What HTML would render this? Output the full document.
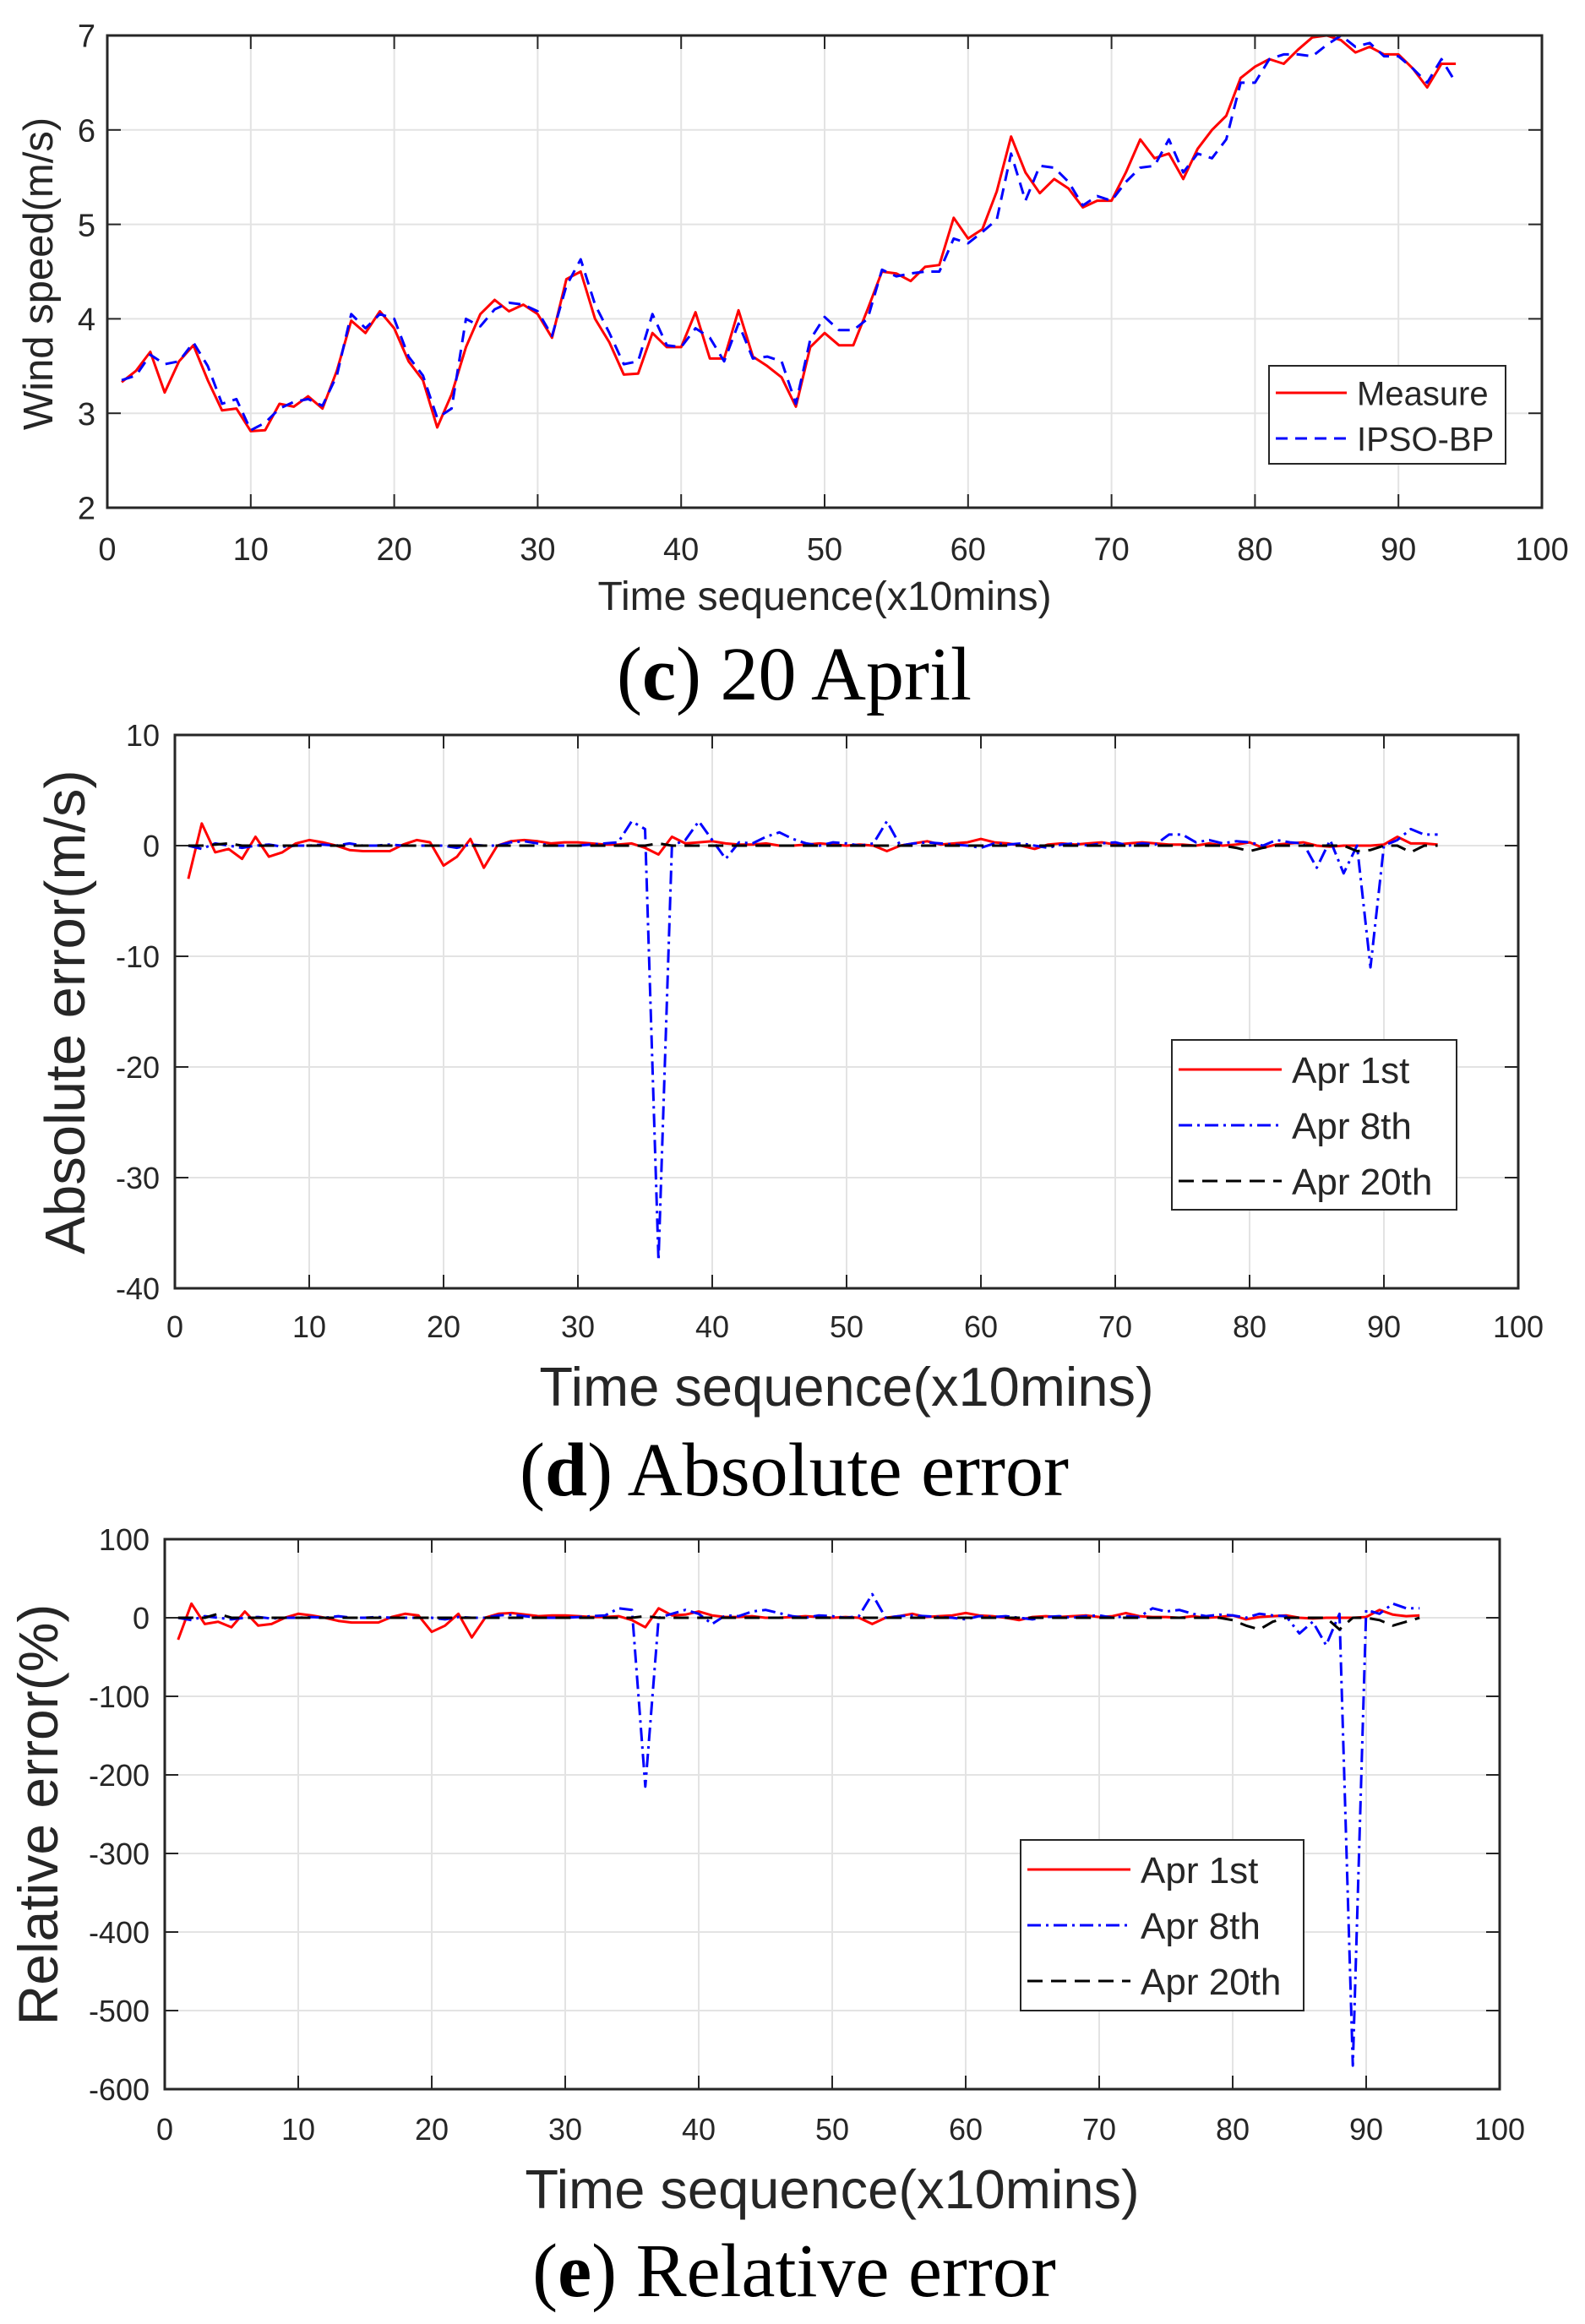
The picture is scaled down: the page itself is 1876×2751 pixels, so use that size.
<!DOCTYPE html>
<html><head><meta charset="utf-8"><style>
html,body{margin:0;padding:0;background:#fff;}
svg{display:block;}
text{font-family:"Liberation Sans",sans-serif;fill:#262626;}
.cap{font-family:"Liberation Serif",serif;fill:#000;}
</style></head><body>
<svg id="root" width="1876" height="2751" viewBox="0 0 1876 2751" xmlns="http://www.w3.org/2000/svg"></svg>
<script>
// ---- data ----
const xIdx = Array.from({length:94},(_,i)=>i+1);
const cMeasure=[3.33,3.45,3.65,3.22,3.55,3.72,3.35,3.03,3.05,2.81,2.82,3.1,3.07,3.18,3.05,3.45,3.98,3.85,4.08,3.9,3.55,3.35,2.85,3.2,3.7,4.05,4.2,4.08,4.15,4.05,3.8,4.42,4.5,4.0,3.75,3.41,3.42,3.85,3.7,3.7,4.07,3.58,3.58,4.09,3.6,3.5,3.38,3.07,3.7,3.85,3.72,3.72,4.1,4.5,4.48,4.4,4.55,4.57,5.07,4.85,4.95,5.35,5.93,5.55,5.33,5.48,5.38,5.18,5.25,5.25,5.55,5.9,5.7,5.75,5.48,5.8,6.0,6.15,6.55,6.67,6.75,6.7,6.85,6.98,7.0,6.95,6.82,6.88,6.8,6.8,6.65,6.45,6.7,6.7];
const cIpso=[3.35,3.4,3.62,3.52,3.55,3.75,3.5,3.1,3.15,2.82,2.9,3.05,3.12,3.15,3.08,3.4,4.05,3.9,4.05,4.0,3.6,3.4,2.95,3.05,4.0,3.92,4.1,4.17,4.15,4.08,3.82,4.35,4.63,4.15,3.85,3.52,3.55,4.05,3.72,3.7,3.9,3.8,3.55,3.95,3.58,3.6,3.55,3.1,3.78,4.02,3.88,3.88,4.0,4.52,4.45,4.48,4.5,4.5,4.85,4.8,4.92,5.05,5.75,5.25,5.62,5.6,5.45,5.2,5.3,5.25,5.45,5.6,5.62,5.9,5.55,5.75,5.7,5.9,6.5,6.5,6.75,6.8,6.8,6.78,6.9,7.0,6.88,6.92,6.78,6.78,6.65,6.5,6.75,6.5];
const dApr1=[-3,2,-0.6,-0.3,-1.2,0.8,-1,-0.6,0.2,0.5,0.3,0,-0.4,-0.5,-0.5,-0.5,0.1,0.5,0.3,-1.8,-1,0.6,-2,0,0.4,0.5,0.4,0.2,0.3,0.3,0.2,0.1,0.1,0.2,-0.2,-0.8,0.8,0.2,0.3,0.4,0.2,0.1,0.1,0.2,0,0,0.1,0.2,0.1,0,0.1,0,-0.5,0,0.2,0.4,0.1,0.2,0.3,0.6,0.3,0.2,0,-0.3,0.1,0.2,0.1,0.2,0.3,0.1,0.2,0.3,0.2,0.1,0.1,0,0.2,0,0.1,0.3,-0.2,0.1,0.2,0.3,0,-0.1,0,0,0,0.1,0.8,0.2,0.2,0.1];
const dApr8=[0,-0.3,0.2,0,-0.2,0,0.1,-0.1,0,0,0.1,0,0.2,0,0,0.1,0,0,0,0,-0.2,0.1,0,0,0.3,0.4,0.2,0,0,0,0.1,0.2,0.3,2.2,1.5,-37.5,0,0.5,2.2,0.5,-1.2,0.3,0.2,0.8,1.2,0.6,0.2,0,0.3,0.2,0,0.2,2.2,0,0.2,0.3,0.2,0.1,0,-0.2,0.2,0.1,0.2,0,-0.2,0.1,0.2,0,0.2,0.3,0,0.2,0.1,1,1,0.3,0.5,0.2,0.4,0.3,0,0.5,0.3,0.2,-2,0.5,-2.5,0,-11,0,0.5,1.5,1,1];
const dApr20=[0,0,0.1,0.2,0,0,0,0,0,0,0,0,0,0,0,0,0,0,0,0,0,0,0,0,0,0,0,0,0,0,0,0,0,0,0,0.2,0,0,0,0,0,0,0,0,0,0,0,0,0,0,0,0,0,0,0,0,0,0,0,0,0,0,0,0,0,0,0,0,0,0,0,0,0,0,0,0,0,0,-0.2,-0.5,-0.2,0,0,0,0,0,0,-0.5,-0.4,0,0,-0.6,0,0];
const eApr1=[-28,18,-8,-5,-12,8,-10,-8,0,5,3,0,-4,-6,-6,-6,1,5,3,-18,-10,5,-25,0,5,6,4,2,3,3,2,1,1,2,-3,-12,12,3,4,8,3,1,1,2,0,0,1,2,1,0,1,0,-8,0,2,5,1,2,3,6,3,2,0,-3,1,2,1,2,3,1,2,6,2,1,1,0,2,0,1,3,-2,1,2,3,0,-1,0,0,0,1,10,4,2,3];
const eApr8=[0,-3,2,0,-2,0,1,-1,0,0,1,0,2,0,0,1,0,0,0,0,-2,1,0,0,3,4,2,0,0,0,1,2,3,12,10,-215,0,5,10,5,-8,3,2,8,10,6,2,0,3,2,0,2,30,0,2,3,2,1,0,-2,2,1,2,0,-2,1,2,0,2,3,0,2,1,12,8,10,5,2,4,3,0,5,3,2,-20,-5,-35,5,-570,10,5,18,12,12];
const eApr20=[0,0,0,5,0,0,0,0,0,0,0,0,0,0,0,0,0,0,0,0,0,0,0,0,0,0,0,0,0,0,0,0,0,0,0,2,0,0,0,0,0,0,0,0,0,0,0,0,0,0,0,0,0,0,0,0,0,0,0,0,0,0,0,0,0,0,0,0,0,0,0,0,0,0,0,0,0,0,0,-3,-10,-15,-5,0,0,0,0,-15,0,0,-3,-10,-5,0];
const xTicks=[0,10,20,30,40,50,60,70,80,90,100];
const cYTicks=[2,3,4,5,6,7];
const dYTicks=[-40,-30,-20,-10,0,10];
const eYTicks=[-600,-500,-400,-300,-200,-100,0,100];

const NS="http://www.w3.org/2000/svg";
const root=document.getElementById('root');
function el(tag,attrs,parent){const e=document.createElementNS(NS,tag);for(const k in attrs)e.setAttribute(k,attrs[k]);(parent||root).appendChild(e);return e;}

function chart(cfg){
  const g=el('g',{});
  
  
  const sx=v=>cfg.L+(v-0)/(100-0)*(cfg.R-cfg.L);
  const sy=v=>cfg.B-(v-cfg.ymin)/(cfg.ymax-cfg.ymin)*(cfg.B-cfg.T);
  xTicks.forEach(t=>{const l=el('line',{x1:sx(t),x2:sx(t),y1:cfg.T,y2:cfg.B,stroke:'#e3e3e3','stroke-width':2},g);
    });
  cfg.yTicks.forEach(t=>{const l=el('line',{x1:cfg.L,x2:cfg.R,y1:sy(t),y2:sy(t),stroke:'#e3e3e3','stroke-width':2},g);
    });
  cfg.series.forEach(s=>{
    const d=s.vals.map((v,i)=>(i?'L':'M')+sx(xIdx[i]).toFixed(1)+' '+sy(v).toFixed(1)).join(' ');
    const p=el('path',{d:d,fill:'none',stroke:s.color,'stroke-width':3,'stroke-dasharray':s.dash||'','stroke-linejoin':'round'},g);
    
  });
  const box=el('rect',{x:cfg.L,y:cfg.T,width:cfg.R-cfg.L,height:cfg.B-cfg.T,fill:'none',stroke:'#262626','stroke-width':3},g);
  
  xTicks.forEach(t=>{
    el('line',{x1:sx(t),x2:sx(t),y1:cfg.B,y2:cfg.B-16,stroke:'#262626','stroke-width':2},g);
    el('line',{x1:sx(t),x2:sx(t),y1:cfg.T,y2:cfg.T+16,stroke:'#262626','stroke-width':2},g);
    const tx=el('text',{x:sx(t),y:cfg.B+cfg.xlY,'font-size':cfg.fs,'text-anchor':'middle'},g);
    tx.textContent=t;
  });
  cfg.yTicks.forEach(t=>{
    el('line',{x1:cfg.L,x2:cfg.L+16,y1:sy(t),y2:sy(t),stroke:'#262626','stroke-width':2},g);
    el('line',{x1:cfg.R,x2:cfg.R-16,y1:sy(t),y2:sy(t),stroke:'#262626','stroke-width':2},g);
    const tx=el('text',{x:cfg.L-cfg.ylX,y:sy(t)+cfg.fs*0.36,'font-size':cfg.fs,'text-anchor':'end'},g);
    tx.textContent=t;
  });
  const xt=el('text',{x:(cfg.L+cfg.R)/2,y:cfg.xtY,'font-size':cfg.xtFs,'text-anchor':'middle'},g);
  xt.textContent='Time sequence(x10mins)';
  const yt=el('text',{x:0,y:0,'font-size':cfg.ytFs,'text-anchor':'middle',transform:`translate(${cfg.ytX},${cfg.ytY}) rotate(-90)`},g);
  yt.textContent=cfg.ytitle;
  const lg=el('g',{},g);
  const Lb=cfg.leg;
  el('rect',{x:Lb.x,y:Lb.y,width:Lb.w,height:Lb.h,fill:'#fff',stroke:'#262626','stroke-width':2},lg);
  cfg.series.forEach((s,i)=>{
    const cy=Lb.y+Lb.pad+i*Lb.step;
    el('line',{x1:Lb.x+8,x2:Lb.x+Lb.lineW,y1:cy,y2:cy,stroke:s.color,'stroke-width':3,'stroke-dasharray':s.dash||''},lg);
    const t=el('text',{x:Lb.x+Lb.lineW+12,y:cy+Lb.fs*0.36,'font-size':Lb.fs,fill:'#000'},lg);
    t.textContent=s.label;
  });
  const c=el('text',{x:cfg.capX,y:cfg.capY,'font-size':cfg.capFs,'text-anchor':'middle',class:'cap'},g);
  c.innerHTML=cfg.caption;
}

chart({name:'chart-wind-speed',L:127,R:1825,T:42,B:601,ymin:2,ymax:7,yTicks:cYTicks,fs:38,xlY:62,ylX:14,
  xtY:722,xtFs:48,ytitle:'Wind speed(m/s)',ytX:62,ytY:324,ytFs:49,
  series:[{id:'measure',vals:cMeasure,color:'#ff0000',label:'Measure'},{id:'ipso-bp',vals:cIpso,color:'#0000ff',dash:'14,9',label:'IPSO-BP'}],
  leg:{x:1502,y:433,w:280,h:116,pad:32,step:54,lineW:92,fs:40},
  caption:'(<tspan font-weight="bold">c</tspan>) 20 April',capX:940,capY:828,capFs:90});

chart({name:'chart-absolute-error',L:207,R:1797,T:870,B:1525,ymin:-40,ymax:10,yTicks:dYTicks,fs:36,xlY:58,ylX:18,
  xtY:1664,xtFs:65,ytitle:'Absolute error(m/s)',ytX:100,ytY:1198,ytFs:67,
  series:[{id:'apr-1st',vals:dApr1,color:'#ff0000',label:'Apr 1st'},{id:'apr-8th',vals:dApr8,color:'#0000ff',dash:'16,6,3,6',label:'Apr 8th'},{id:'apr-20th',vals:dApr20,color:'#000000',dash:'18,10',label:'Apr 20th'}],
  leg:{x:1387,y:1231,w:337,h:201,pad:35,step:66,lineW:130,fs:44},
  caption:'(<tspan font-weight="bold">d</tspan>) Absolute error',capX:940,capY:1770,capFs:90});

chart({name:'chart-relative-error',L:195,R:1775,T:1822,B:2473,ymin:-600,ymax:100,yTicks:eYTicks,fs:36,xlY:60,ylX:18,
  xtY:2614,xtFs:65,ytitle:'Relative error(%)',ytX:68,ytY:2148,ytFs:66,
  series:[{id:'apr-1st',vals:eApr1,color:'#ff0000',label:'Apr 1st'},{id:'apr-8th',vals:eApr8,color:'#0000ff',dash:'16,6,3,6',label:'Apr 8th'},{id:'apr-20th',vals:eApr20,color:'#000000',dash:'18,10',label:'Apr 20th'}],
  leg:{x:1208,y:2178,w:335,h:202,pad:35,step:66,lineW:130,fs:44},
  caption:'(<tspan font-weight="bold">e</tspan>) Relative error',capX:940,capY:2718,capFs:90});
</script>
</body></html>
